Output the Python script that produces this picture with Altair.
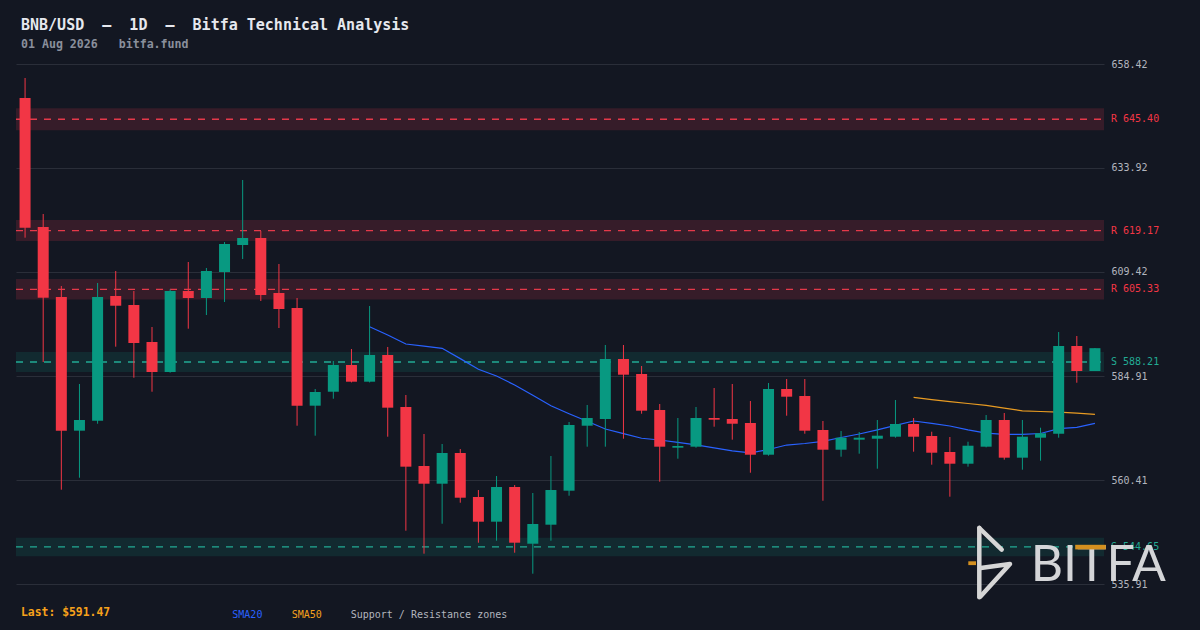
import base64
import pandas as pd
import altair as alt

# ---------------- data ----------------
opens = [650.41, 620.02, 603.53, 572.03, 574.38, 603.76, 601.64, 592.92, 585.86, 604.94,
         603.29, 609.42, 615.78, 617.43, 604.47, 600.93, 577.92, 581.21, 587.50, 583.57,
         589.86, 577.61, 563.71, 559.54, 566.77, 556.41, 550.59, 558.76, 545.40, 549.88,
         557.89, 573.20, 574.78, 588.92, 585.38, 576.90, 568.02, 568.26, 575.02, 574.78,
         573.84, 566.37, 581.85, 580.20, 572.19, 567.55, 569.91, 570.14, 570.61, 573.60,
         570.78, 567.01, 564.25, 568.26, 574.55, 565.67, 570.38, 571.32, 591.98, 586.09]
highs = [655.12, 623.08, 606.12, 583.03, 606.82, 609.65, 604.94, 596.46, 605.34, 611.77,
         610.36, 616.48, 631.09, 619.07, 611.30, 603.29, 581.85, 588.45, 591.27, 601.40,
         591.75, 580.44, 571.25, 568.89, 567.71, 558.05, 561.35, 559.23, 557.35, 566.06,
         574.08, 578.08, 592.22, 592.22, 587.27, 578.32, 575.02, 577.61, 582.09, 583.03,
         579.02, 583.26, 584.21, 584.21, 574.31, 571.95, 571.72, 574.55, 579.26, 575.02,
         571.79, 570.54, 569.43, 575.72, 576.20, 574.55, 572.73, 595.28, 594.34, 591.51]
lows = [617.50, 588.21, 558.13, 560.95, 573.67, 591.82, 584.51, 581.21, 585.70, 596.06,
        599.28, 602.35, 612.48, 602.58, 596.22, 573.20, 570.85, 579.56, 583.40, 583.40,
        570.61, 548.47, 543.05, 550.11, 555.06, 545.64, 546.11, 543.28, 538.34, 546.11,
        556.71, 568.26, 568.26, 570.14, 576.03, 560.01, 565.43, 568.02, 572.97, 569.91,
        562.13, 566.14, 575.56, 571.32, 555.53, 565.90, 566.61, 563.07, 570.38, 567.08,
        564.02, 556.48, 563.55, 568.10, 565.20, 562.84, 564.96, 570.38, 583.33, 586.09]
closes = [619.85, 603.36, 572.03, 574.55, 603.53, 601.47, 592.69, 585.86, 604.94, 603.29,
          609.65, 616.01, 617.43, 604.00, 600.70, 577.92, 581.14, 587.50, 583.57, 589.86,
          577.45, 563.55, 559.54, 566.77, 556.24, 550.59, 558.76, 545.64, 550.04, 558.05,
          573.37, 575.02, 588.92, 585.22, 576.74, 568.26, 568.42, 575.02, 574.62, 573.67,
          566.37, 581.85, 580.04, 572.03, 567.55, 570.38, 570.38, 570.85, 573.60, 570.61,
          566.84, 564.25, 568.49, 574.55, 565.67, 570.61, 571.42, 591.98, 586.09, 591.47]
sma20 = [None] * 19 + [596.53, 594.58, 592.45, 591.96, 591.44, 589.01, 586.49, 584.91, 582.79,
                       580.37, 577.89, 576.01, 574.24, 572.43, 571.34, 570.25, 569.83, 569.29,
                       568.68, 568.00, 567.29, 566.82, 567.60, 568.65, 569.01, 569.53, 570.42,
                       571.25, 572.24, 573.28, 574.31, 573.77, 573.14, 572.24, 571.46, 571.18,
                       571.18, 571.37, 572.52, 572.83, 573.77]
sma50 = [None] * 49 + [579.90, 579.35, 578.86, 578.43, 578.01, 577.33, 576.72, 576.55,
                       576.39, 576.15, 575.89]
zone_levels = [645.40, 619.17, 605.33, 588.21, 544.65]
zone_kinds = ["R", "R", "R", "S", "S"]
zone_pct = 0.004
tick_values = [535.91, 560.41, 584.91, 609.42, 633.92, 658.42]
last_price = 591.47

NB = "\u00a0"  # keeps the runs of spaces that SVG would otherwise collapse
title_text = f"BNB/USD{NB*2}\u2013{NB*2}1D{NB*2}\u2013{NB*2}Bitfa Technical Analysis"
subtitle_text = f"01 Aug 2026{NB*3}bitfa.fund"

# ---------------- tables ----------------
n = len(opens)
candles = pd.DataFrame({"idx": list(range(n)), "open": opens, "high": highs,
                        "low": lows, "close": closes})
s20 = pd.DataFrame({"idx": list(range(n)), "v": sma20}).dropna()
s50 = pd.DataFrame({"idx": list(range(n)), "v": sma50}).dropna()
zones = pd.DataFrame({"level": zone_levels, "kind": zone_kinds})
zones["lo"] = zones["level"] * (1 - zone_pct)
zones["hi"] = zones["level"] * (1 + zone_pct)
zones["label"] = [f"{k} {v:.2f}" for k, v in zip(zone_kinds, zone_levels)]

# ---------------- style ----------------
BG = "#131722"
GREEN = "#089981"
RED = "#f23645"
TEAL = "#22ab94"
BLUE = "#2962ff"
ORANGE = "#f7a21b"
MONO = "DejaVu Sans Mono"
W, H = 1088, 520

yscale = alt.Scale(domain=[tick_values[0], tick_values[-1]], nice=False, zero=False)
yaxis = alt.Axis(orient="right", values=tick_values, format=".2f", grid=True,
                 gridColor="#2a2e39", gridWidth=1, domain=False, ticks=False,
                 labelColor="#b2b5be", labelFont=MONO, labelFontSize=10,
                 labelPadding=7, title=None)
xscale = alt.Scale(type="band", domain=list(range(n)), paddingInner=0, paddingOuter=0)


def Y(field):
    return alt.Y(field, type="quantitative", scale=yscale, axis=yaxis, title=None)


def X():
    return alt.X("idx:O", scale=xscale, axis=None, title=None)


is_res = alt.datum.kind == "R"

zone_rects = alt.Chart(zones).mark_rect().encode(
    x=alt.value(0), x2=alt.value(W), y=Y("lo"), y2=alt.Y2("hi"),
    color=alt.condition(is_res, alt.value("#361c29"), alt.value("#122a30")),
)
zone_lines = alt.Chart(zones).mark_rule(strokeDash=[7, 7], strokeWidth=1.3).encode(
    x=alt.value(0), x2=alt.value(W), y=Y("level"),
    color=alt.condition(is_res, alt.value("#e5394a"), alt.value(TEAL)),
)
zone_labels = alt.Chart(zones).mark_text(align="left", baseline="middle", font=MONO,
                                          fontSize=10).encode(
    x=alt.value(W + 7), y=Y("level"), text="label:N",
    color=alt.condition(is_res, alt.value(RED), alt.value(TEAL)),
)

line20 = alt.Chart(s20).mark_line(color=BLUE, strokeWidth=1.2).encode(x=X(), y=Y("v"))
line50 = alt.Chart(s50).mark_line(color="#e89b22", strokeWidth=1.2).encode(x=X(), y=Y("v"))

up = alt.datum.close >= alt.datum.open
wicks = alt.Chart(candles).mark_rule(strokeWidth=1).encode(
    x=X(), y=Y("low"), y2=alt.Y2("high"),
    color=alt.condition(up, alt.value(GREEN), alt.value(RED)),
)
bodies = alt.Chart(candles).mark_bar(size=11).encode(
    x=X(), y=Y("open"), y2=alt.Y2("close"),
    color=alt.condition(up, alt.value(GREEN), alt.value(RED)),
)


def txt(label, x, y, color, size, weight="normal", font=MONO):
    return alt.Chart(pd.DataFrame({"t": [label]})).mark_text(
        align="left", baseline="middle", font=font, fontSize=size,
        fontWeight=weight, color=color,
    ).encode(x=alt.value(x), y=alt.value(y), text="t:N")


title = txt(title_text, 5, -39.5, "#e6e8ee", 15, "bold")
subtitle = txt(subtitle_text, 5, -19.5, "#8a8f9c", 11.6, "bold")
last_txt = txt(f"Last: ${last_price:.2f}", 5, 548.7, ORANGE, 11.4, "bold")
leg20 = txt("SMA20", 216.3, 551, BLUE, 10)
leg50 = txt("SMA50", 275.7, 551, ORANGE, 10)
legsr = txt("Support / Resistance zones", 334.7, 551, "#b2b5be", 10)

# watermark word (real text) and its drawn mark (bolt + orange accents, incl. the T bar)
bitfa = alt.Chart(pd.DataFrame({"t": ["BITFA"]})).mark_text(
    align="left", baseline="alphabetic", font="Lato", fontSize=50,
    color="#d4d5d8",
).encode(x=alt.value(1014.7), y=alt.value(516.7), text="t:N")

logo_svg = (
    '<svg xmlns="http://www.w3.org/2000/svg" width="145" height="80" viewBox="0 0 145 80">'
    '<g fill="none" stroke="#d6d6d6" stroke-width="4.5" stroke-linecap="round" '
    'stroke-linejoin="round">'
    '<path d="M14.3 6 L14.3 75.3"/>'
    '<path d="M14.3 6 L36.7 27.7"/>'
    '<path d="M15.7 46 L45 42 L15.7 74.3"/>'
    '</g>'
    '<rect x="3.3" y="39.3" width="7.7" height="3.8" fill="#d4901f"/>'
    '<rect x="110.2" y="22.8" width="30.6" height="4.6" fill="#d4901f"/>'
    '</svg>'
)
logo_uri = "data:image/svg+xml;base64," + base64.b64encode(logo_svg.encode()).decode()
logo = alt.Chart(pd.DataFrame({"url": [logo_uri]})).mark_image(
    width=145, height=80, align="left", baseline="top"
).encode(x=alt.value(949), y=alt.value(458), url="url:N")

chart = alt.layer(
    zone_rects, zone_lines, line20, line50, wicks, bodies, zone_labels,
    title, subtitle, last_txt, leg20, leg50, legsr, bitfa, logo,
).properties(
    width=W, height=H,
    padding={"left": 8, "top": 56, "right": 88, "bottom": 44},
    autosize=alt.AutoSizeParams(type="none"),
).configure(background=BG).configure_view(strokeWidth=0)

EMBED = {"renderer": "svg", "actions": False}
try:
    import jinja2
    page = jinja2.Template("""<!DOCTYPE html>
<html>
<head>
<meta charset="utf-8">
<style>
html { background: #131722; overflow: hidden; }
body { margin: 8px 8px 0 8px; background: #131722; overflow: hidden; }
#{{ output_div }}.vega-embed { width: 100%; display: flex; }
</style>
<script type="text/javascript" src="{{ base_url }}/vega@{{ vega_version }}"></script>
<script type="text/javascript" src="{{ base_url }}/vega-lite@{{ vegalite_version }}"></script>
<script type="text/javascript" src="{{ base_url }}/vega-embed@{{ vegaembed_version }}"></script>
</head>
<body>
<div id="{{ output_div }}"></div>
<script>
var spec = {{ spec }};
var embedOpt = {{ embed_options }};
vegaEmbed("#{{ output_div }}", spec, embedOpt).catch(function (e) {
  document.getElementById("{{ output_div }}").innerHTML =
    '<pre style="color:red">' + e.message + '</pre>';
});
</script>
</body>
</html>""")
    chart.save("out.html", embed_options=EMBED, template=page)
except Exception:
    chart.save("out.html", embed_options=EMBED)
